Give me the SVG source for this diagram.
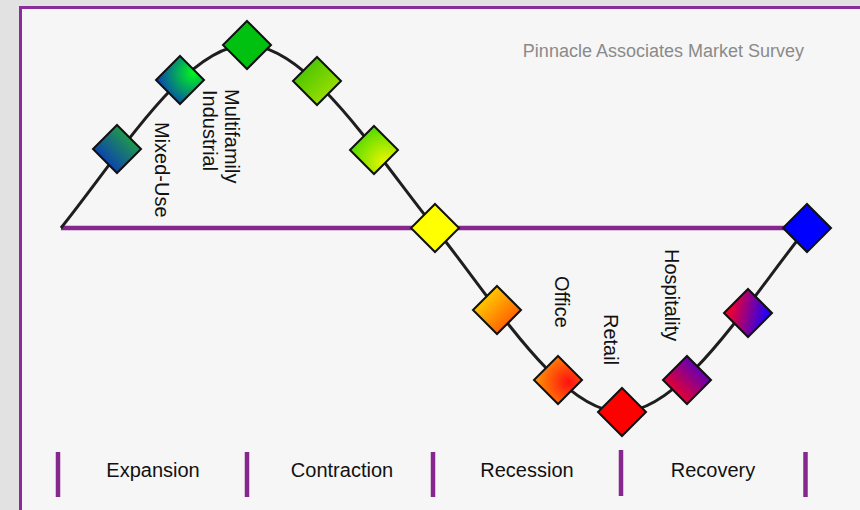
<svg xmlns="http://www.w3.org/2000/svg" width="860" height="510" viewBox="0 0 860 510">
  <defs>
    <style>
      .lbl { font-family: "Liberation Sans", Arial, sans-serif; font-size: 20px; fill: #111; }
      .phase { font-family: "Liberation Sans", Arial, sans-serif; font-size: 20px; fill: #111; text-anchor: middle; }
      .title { font-family: "Liberation Sans", Arial, sans-serif; font-size: 18px; fill: #8a8a8a; text-anchor: end; }
      .gem { stroke: #111; stroke-width: 2; stroke-linejoin: miter; }
      .bar { stroke: #85278f; stroke-width: 4.5; }
    </style>
    <polygon id="diamond" points="0,-24 24,0 0,24 -24,0"/>
    <linearGradient id="gMixed" x1="0" y1="1" x2="1" y2="0">
      <stop offset="0.2" stop-color="#0b3cb4"/>
      <stop offset="0.85" stop-color="#23a83c"/>
    </linearGradient>
    <radialGradient id="gMulti" cx="0.78" cy="0.35" r="0.8">
      <stop offset="0" stop-color="#00f81a"/>
      <stop offset="1" stop-color="#0a3cb8"/>
    </radialGradient>
    <linearGradient id="gGreen4" x1="0" y1="0" x2="1" y2="1">
      <stop offset="0.1" stop-color="#3cc000"/>
      <stop offset="0.9" stop-color="#a8e400"/>
    </linearGradient>
    <radialGradient id="gGreen5" cx="0.75" cy="0.78" r="0.85">
      <stop offset="0" stop-color="#f0f800"/>
      <stop offset="1" stop-color="#48d800"/>
    </radialGradient>
    <linearGradient id="gOrange7" x1="0" y1="0" x2="1" y2="1">
      <stop offset="0.15" stop-color="#ffd800"/>
      <stop offset="0.9" stop-color="#ff4a00"/>
    </linearGradient>
    <radialGradient id="gOrange8" cx="0.72" cy="0.55" r="0.8">
      <stop offset="0" stop-color="#ff1010"/>
      <stop offset="1" stop-color="#ffa800"/>
    </radialGradient>
    <linearGradient id="gPurple10" x1="0" y1="1" x2="1" y2="0">
      <stop offset="0.2" stop-color="#f00028"/>
      <stop offset="0.85" stop-color="#4c00cc"/>
    </linearGradient>
    <linearGradient id="gPurple11" x1="0" y1="0.3" x2="1" y2="0.5">
      <stop offset="0.15" stop-color="#ee0030"/>
      <stop offset="0.9" stop-color="#2400f4"/>
    </linearGradient>
  </defs>

  <!-- page and framed panel -->
  <rect x="0" y="0" width="860" height="510" fill="#e2e2e2"/>
  <rect x="20.5" y="7.5" width="845" height="510" fill="#f6f6f6" stroke="#8a2c9a" stroke-width="3"/>

  <text class="title" x="804" y="57">Pinnacle Associates Market Survey</text>

  <!-- connectors: baseline axis, cycle curve, phase separators -->
  <g id="connectors">
    <line x1="61" y1="228" x2="800" y2="228" stroke="#85278f" stroke-width="4.5"/>
    <path d="M61,228 C121,153 187,45 247,45 S375,153 435,228 S561,412 621,412 S747,303 807,228" fill="none" stroke="#1e1e1e" stroke-width="3"/>
    <line class="bar" x1="58" y1="452" x2="58" y2="497"/>
    <line class="bar" x1="247" y1="452" x2="247" y2="497"/>
    <line class="bar" x1="433" y1="452" x2="433" y2="497"/>
    <line class="bar" x1="621" y1="450" x2="621" y2="496"/>
    <line class="bar" x1="805.5" y1="452" x2="805.5" y2="497"/>
  </g>

  <!-- sector markers along the cycle -->
  <g id="node-mixed-use"><use href="#diamond" class="gem" fill="url(#gMixed)" transform="translate(117,149)"/></g>
  <g id="node-multifamily"><use href="#diamond" class="gem" fill="url(#gMulti)" transform="translate(180,80)"/></g>
  <g id="node-peak"><use href="#diamond" class="gem" fill="#00c010" transform="translate(247,45)"/></g>
  <g id="node-4"><use href="#diamond" class="gem" fill="url(#gGreen4)" transform="translate(317,81)"/></g>
  <g id="node-5"><use href="#diamond" class="gem" fill="url(#gGreen5)" transform="translate(374,150)"/></g>
  <g id="node-crossing"><use href="#diamond" class="gem" fill="#ffff00" transform="translate(435,228)"/></g>
  <g id="node-7"><use href="#diamond" class="gem" fill="url(#gOrange7)" transform="translate(497,310)"/></g>
  <g id="node-office"><use href="#diamond" class="gem" fill="url(#gOrange8)" transform="translate(558,380)"/></g>
  <g id="node-retail"><use href="#diamond" class="gem" fill="#ff0000" transform="translate(622,412)"/></g>
  <g id="node-10"><use href="#diamond" class="gem" fill="url(#gPurple10)" transform="translate(687,380)"/></g>
  <g id="node-hospitality"><use href="#diamond" class="gem" fill="url(#gPurple11)" transform="translate(748,313)"/></g>
  <g id="node-end"><use href="#diamond" class="gem" fill="#0000ff" transform="translate(807,228)"/></g>

  <!-- sector labels, set vertically -->
  <g id="labels">
    <text class="lbl" transform="translate(155,122) rotate(90)">Mixed-Use</text>
    <text class="lbl" transform="translate(225,89) rotate(90)">Multifamily</text>
    <text class="lbl" transform="translate(203,90) rotate(90)">Industrial</text>
    <text class="lbl" transform="translate(555,276) rotate(90)">Office</text>
    <text class="lbl" transform="translate(604,314) rotate(90)">Retail</text>
    <text class="lbl" transform="translate(665,249) rotate(90)">Hospitality</text>
  </g>

  <!-- cycle phases -->
  <g id="phases">
    <text class="phase" x="153" y="477">Expansion</text>
    <text class="phase" x="342" y="477">Contraction</text>
    <text class="phase" x="527" y="477">Recession</text>
    <text class="phase" x="713" y="477">Recovery</text>
  </g>
</svg>
